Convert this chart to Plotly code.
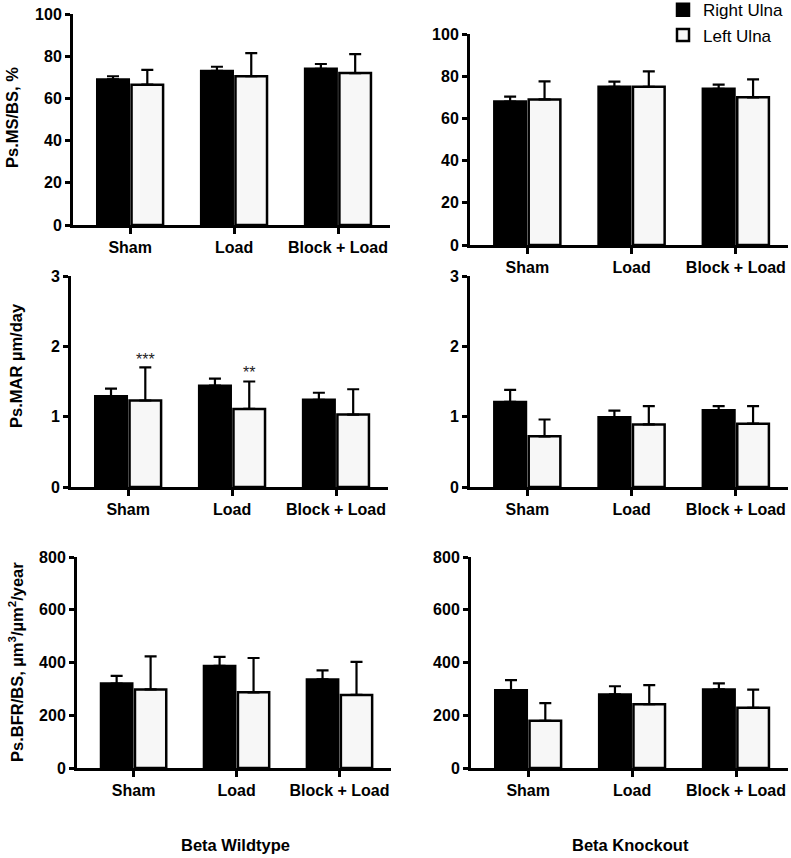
import plotly.graph_objects as go

categories = ["Sham", "Load", "Block + Load"]

msbs_wt_right = [69, 73, 74]
msbs_wt_right_err = [1.5, 2.0, 2.3]
msbs_wt_left = [66.5, 70.5, 72]
msbs_wt_left_err = [7, 11, 9]
msbs_ko_right = [68, 75, 74]
msbs_ko_right_err = [2.3, 2.4, 2.0]
msbs_ko_left = [69, 75, 70]
msbs_ko_left_err = [8.5, 7.3, 8.5]

mar_wt_right = [1.29, 1.44, 1.24]
mar_wt_right_err = [0.11, 0.10, 0.10]
mar_wt_left = [1.23, 1.11, 1.03]
mar_wt_left_err = [0.47, 0.39, 0.36]
mar_ko_right = [1.21, 0.99, 1.09]
mar_ko_right_err = [0.17, 0.095, 0.06]
mar_ko_left = [0.72, 0.89, 0.90]
mar_ko_left_err = [0.24, 0.26, 0.25]

bfr_wt_right = [320, 387, 336]
bfr_wt_right_err = [29, 34, 34]
bfr_wt_left = [298, 287, 277]
bfr_wt_left_err = [125, 130, 125]
bfr_ko_right = [295, 279, 298]
bfr_ko_right_err = [38, 31, 23]
bfr_ko_left = [179, 242, 228]
bfr_ko_left_err = [67, 72, 69]

msbs_ticks = [0, 20, 40, 60, 80, 100]
mar_ticks = [0, 1, 2, 3]
bfr_ticks = [0, 200, 400, 600, 800]

series_names = ["Right Ulna", "Left Ulna"]
significance = [("Sham", 1.85, "***"), ("Load", 1.67, "**")]

W, H = 791, 858
FONT = "Liberation Sans, Arial, sans-serif"

panels = [
    # (right, right_err, left, left_err, ticks, xpix, ypix)
    (msbs_wt_right, msbs_wt_right_err, msbs_wt_left, msbs_wt_left_err, msbs_ticks, (73, 390), (14, 225)),
    (msbs_ko_right, msbs_ko_right_err, msbs_ko_left, msbs_ko_left_err, msbs_ticks, (470, 788), (34, 245)),
    (mar_wt_right, mar_wt_right_err, mar_wt_left, mar_wt_left_err, mar_ticks, (71, 388), (276, 487)),
    (mar_ko_right, mar_ko_right_err, mar_ko_left, mar_ko_left_err, mar_ticks, (470, 788), (276, 487)),
    (bfr_wt_right, bfr_wt_right_err, bfr_wt_left, bfr_wt_left_err, bfr_ticks, (77, 391), (557, 768)),
    (bfr_ko_right, bfr_ko_right_err, bfr_ko_left, bfr_ko_left_err, bfr_ticks, (471, 788), (557, 768)),
]

fig = go.Figure()
layout = {}
for i, (r, re, l, le, ticks, xp, yp) in enumerate(panels):
    n = i + 1
    xa = "x" if n == 1 else f"x{n}"
    ya = "y" if n == 1 else f"y{n}"
    for name, vals, errs, fill in [
        (series_names[0], r, re, "#000000"),
        (series_names[1], l, le, "#f7f7f7"),
    ]:
        fig.add_trace(go.Bar(
            x=categories, y=vals, name=name,
            xaxis=xa, yaxis=ya,
            marker=dict(color=fill, line=dict(color="black", width=2.5)),
            error_y=dict(type="data", array=errs, arrayminus=[0] * len(errs),
                         symmetric=False, color="black", thickness=2.2, width=6),
            showlegend=(n == 1),
            legendgroup=name,
        ))
    xkey = "xaxis" if n == 1 else f"xaxis{n}"
    ykey = "yaxis" if n == 1 else f"yaxis{n}"
    layout[xkey] = dict(
        domain=[xp[0] / W, xp[1] / W], anchor=ya, type="category",
        range=[-0.55, 2.5], showline=True, linewidth=3, linecolor="black",
        ticks="outside", ticklen=6, tickwidth=3, tickcolor="black",
        tickfont=dict(family=FONT, size=16, color="black", weight="bold"),
        showgrid=False, zeroline=False, fixedrange=True, automargin=False,
    )
    layout[ykey] = dict(
        domain=[1 - yp[1] / H, 1 - yp[0] / H], anchor=xa,
        range=[ticks[0], ticks[-1]], tickvals=ticks,
        showline=True, linewidth=3, linecolor="black",
        ticks="outside", ticklen=5, tickwidth=3, tickcolor="black",
        tickfont=dict(family=FONT, size=16, color="black", weight="bold"),
        showgrid=False, zeroline=False, fixedrange=True, automargin=False,
    )

annotations = []
for cat, yv, txt in significance:
    annotations.append(dict(
        x=cat, y=yv, xref="x3", yref="y3", text=txt, showarrow=False,
        xshift=17, yshift=-3, font=dict(family=FONT, size=16, color="#222"),
    ))

ytitles = [
    ("Ps.MS/BS, %", 12, 118),
    ("Ps.MAR µm/day", 16, 366),
    ("Ps.BFR/BS, µm<sup>3</sup>/µm<sup>2</sup>/year", 16, 662),
]
for txt, px, py in ytitles:
    annotations.append(dict(
        x=px / W, y=1 - py / H, xref="paper", yref="paper", text=txt,
        textangle=-90, showarrow=False, xanchor="center", yanchor="middle",
        font=dict(family=FONT, size=16.5, color="black", weight="bold"),
    ))

for txt, px in [("Beta Wildtype", 235), ("Beta Knockout", 630)]:
    annotations.append(dict(
        x=px / W, y=1 - 845 / H, xref="paper", yref="paper", text=txt,
        showarrow=False, xanchor="center", yanchor="middle",
        font=dict(family=FONT, size=16.5, color="black", weight="bold"),
    ))

fig.update_layout(
    **layout,
    annotations=annotations,
    width=W, height=H,
    margin=dict(l=0, r=0, t=0, b=0, autoexpand=False),
    paper_bgcolor="white", plot_bgcolor="white",
    barmode="group", bargap=0.34, bargroupgap=0.08,
    showlegend=True,
    legend=dict(
        x=663 / W, y=1.009, xanchor="left", yanchor="top",
        font=dict(family=FONT, size=17, color="black"),
        bgcolor="rgba(0,0,0,0)", tracegroupgap=0, itemwidth=30,
    ),
)

fig.write_html(
    "out.html",
    config={"displayModeBar": False, "staticPlot": True},
    post_script="document.body.style.margin='0';",
)
